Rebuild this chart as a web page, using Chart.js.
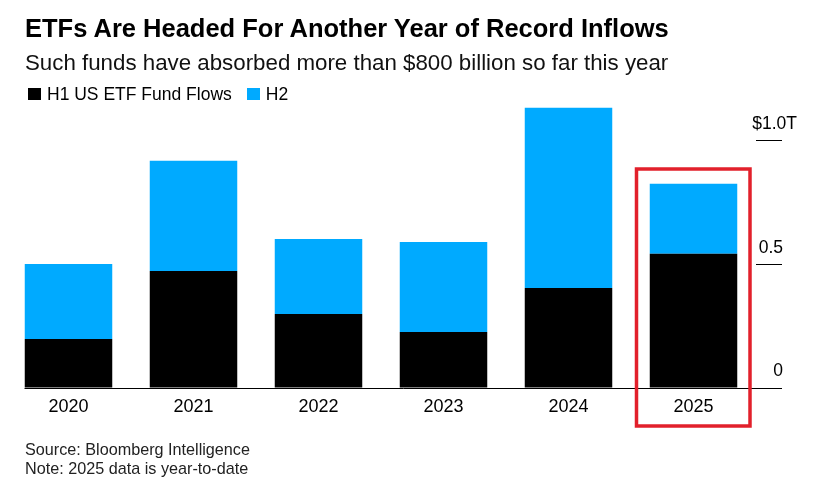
<!DOCTYPE html>
<html>
<head>
<meta charset="utf-8">
<title>ETF flows</title>
<script src="https://cdn.jsdelivr.net/npm/chart.js@4/dist/chart.umd.min.js"></script>
<style>
    html, body { margin: 0; padding: 0; background: #fff; }
    body { width: 817px; height: 496px; position: relative; overflow: hidden; font-family: "Liberation Sans", Arial, sans-serif; color: #000; }
    canvas { position: absolute; left: 0; top: 0; }
    .txt { position: absolute; left: 25px; white-space: nowrap; }
    #title { top: 13px; font-size: 25.5px; font-weight: bold; line-height: 30px; }
    #subtitle { top: 50px; font-size: 22.3px; line-height: 26px; color: #111; }
    #legend { top: 84px; left: 28px; font-size: 17.5px; line-height: 20px; display: flex; align-items: center; }
    #legend i { display: inline-block; width: 13px; height: 12px; margin-right: 6px; }
    #legend span { margin-right: 15px; }
    #footer { top: 440px; font-size: 16.2px; line-height: 18.5px; color: #222; }
</style>
</head>
<body>
<canvas id="chart" width="817" height="496"></canvas>
<div class="txt" id="title"></div>
<div class="txt" id="subtitle"></div>
<div class="txt" id="legend"></div>
<div class="txt" id="footer"></div>
<script>
// chart data, $ trillions
const years = ['2020', '2021', '2022', '2023', '2024', '2025'];
const h1Values = [0.198, 0.473, 0.299, 0.226, 0.404, 0.542];
const h2Values = [0.303, 0.445, 0.303, 0.364, 0.728, 0.283];
const seriesNames = ['H1 US ETF Fund Flows', 'H2'];
const seriesColors = ['#000000', '#00aaff'];
const yTickValues = [0, 0.5, 1];
const yTickLabels = ['0', '0.5', '$1.0T'];
const highlightYear = '2025';

const titleText = 'ETFs Are Headed For Another Year of Record Inflows';
const subtitleText = 'Such funds have absorbed more than $800 billion so far this year';
const footerLines = ['Source: Bloomberg Intelligence', 'Note: 2025 data is year-to-date'];

document.getElementById('title').textContent = titleText;
document.getElementById('subtitle').textContent = subtitleText;
document.getElementById('footer').innerHTML = footerLines.join('<br>');
document.getElementById('legend').innerHTML = seriesNames
    .map((name, i) => `<i style="background:${seriesColors[i]}"></i><span>${name}</span>`)
    .join('');

// baseline runs across the bars and out to the right edge of the ticks
const baselinePlugin = {
    id: 'baseline',
    afterDatasetsDraw(chart) {
        const { ctx, scales: { x, y } } = chart;
        const y0 = Math.round(y.getPixelForValue(0)) + 0.5;
        ctx.save();
        ctx.strokeStyle = '#000';
        ctx.lineWidth = 1;
        ctx.beginPath();
        ctx.moveTo(x.getPixelForValue(0) - 44, y0);
        ctx.lineTo(y.right, y0);
        ctx.stroke();
        ctx.restore();
    }
};

// labels sit above their tick lines, the "T" of the top one hangs past the tick
const yLabelPlugin = {
    id: 'yLabels',
    afterDatasetsDraw(chart) {
        const { ctx, scales: { y } } = chart;
        ctx.save();
        ctx.fillStyle = '#000';
        ctx.font = '17.5px "Liberation Sans", Arial, sans-serif';
        ctx.textBaseline = 'middle';
        ctx.textAlign = 'right';
        yTickValues.forEach((value, i) => {
            const overhang = yTickLabels[i].endsWith('T') ? 15 : 1;
            ctx.fillText(yTickLabels[i], y.right + overhang, y.getPixelForValue(value) - 16.5);
        });
        ctx.restore();
    }
};

// red box around the year-to-date bar
const highlightPlugin = {
    id: 'highlight',
    afterDatasetsDraw(chart) {
        const { ctx, scales: { x, y } } = chart;
        const cx = x.getPixelForValue(years.indexOf(highlightYear));
        const y0 = y.getPixelForValue(0);
        ctx.save();
        ctx.strokeStyle = '#e2202b';
        ctx.lineWidth = 3.5;
        ctx.strokeRect(cx - 57, y0 - 219, 113.5, 257);
        ctx.restore();
    }
};

new Chart(document.getElementById('chart').getContext('2d'), {
    type: 'bar',
    data: {
        labels: years,
        datasets: [
            { label: seriesNames[0], data: h1Values, backgroundColor: seriesColors[0] },
            { label: seriesNames[1], data: h2Values, backgroundColor: seriesColors[1] }
        ]
    },
    options: {
        responsive: false,
        animation: false,
        devicePixelRatio: 1,
        layout: { padding: { left: 6, right: 35, top: 91, bottom: 68 } },
        plugins: { legend: { display: false }, title: { display: false }, tooltip: { enabled: false } },
        datasets: { bar: { categoryPercentage: 1, barPercentage: 0.7 } },
        scales: {
            x: {
                stacked: true,
                border: { display: false },
                grid: { display: false, drawTicks: false },
                afterFit(scale) { scale.height = 40; scale.paddingLeft = 0; scale.paddingRight = 0; },
                ticks: {
                    color: '#000',
                    font: { family: '"Liberation Sans", Arial, sans-serif', size: 18 },
                    padding: 8,
                    maxRotation: 0
                }
            },
            y: {
                stacked: true,
                position: 'right',
                min: 0,
                max: 1.2,
                border: { display: false },
                grid: { drawOnChartArea: false, drawTicks: true, tickLength: 26, color: '#000', lineWidth: 1 },
                afterFit(scale) { scale.width = 26; scale.paddingTop = 0; scale.paddingBottom = 0; },
                afterBuildTicks(scale) { scale.ticks = yTickValues.map(value => ({ value })); },
                ticks: { display: false }
            }
        }
    },
    plugins: [baselinePlugin, yLabelPlugin, highlightPlugin]
});
</script>
</body>
</html>
